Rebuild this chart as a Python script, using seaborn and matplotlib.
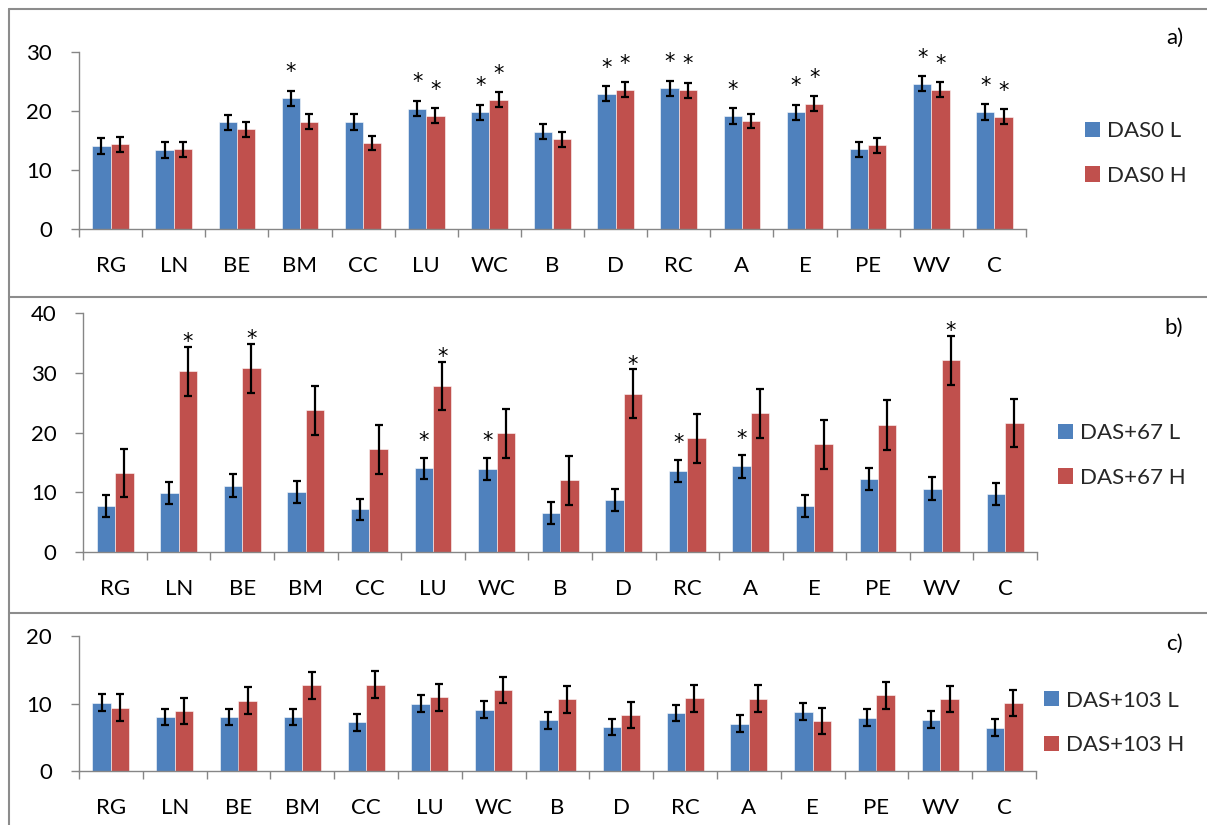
import matplotlib
matplotlib.use("Agg")
import matplotlib.pyplot as plt
from matplotlib.lines import Line2D
from matplotlib.patches import Patch
import pandas as pd
import seaborn as sns

# ---- data -------------------------------------------------------------
categories = ["RG", "LN", "BE", "BM", "CC", "LU", "WC", "B", "D", "RC",
              "A", "E", "PE", "WV", "C"]

# a) DAS0
das0_l = [14.1, 13.4, 18.1, 22.1, 18.1, 20.4, 19.8, 16.5, 22.9, 23.8,
          19.1, 19.8, 13.5, 24.6, 19.8]
das0_h = [14.4, 13.5, 16.9, 18.2, 14.6, 19.2, 21.9, 15.2, 23.6, 23.5,
          18.3, 21.2, 14.2, 23.6, 19.0]
das0_l_err = [1.35, 1.29, 1.29, 1.32, 1.30, 1.32, 1.27, 1.27, 1.29, 1.29,
              1.32, 1.27, 1.29, 1.27, 1.29]
das0_h_err = [1.27, 1.27, 1.24, 1.24, 1.21, 1.24, 1.27, 1.24, 1.27, 1.24,
              1.24, 1.24, 1.27, 1.27, 1.24]
das0_l_sig = [0, 0, 0, 1, 0, 1, 1, 0, 1, 1, 1, 1, 0, 1, 1]
das0_h_sig = [0, 0, 0, 0, 0, 1, 1, 0, 1, 1, 0, 1, 0, 1, 1]

# b) DAS+67
das67_l = [7.7, 9.9, 11.1, 10.0, 7.1, 14.0, 13.9, 6.5, 8.7, 13.6,
           14.3, 7.6, 12.2, 10.6, 9.7]
das67_h = [13.2, 30.3, 30.8, 23.7, 17.2, 27.8, 19.9, 12.0, 26.5, 19.0,
           23.2, 18.0, 21.3, 32.1, 21.6]
das67_l_err = [1.85, 1.82, 1.88, 1.85, 1.82, 1.80, 1.85, 1.90, 1.85, 1.85,
               1.88, 1.85, 1.88, 1.85, 1.88]
das67_h_err = [4.08, 4.10, 4.10, 4.10, 4.10, 4.10, 4.10, 4.10, 4.10, 4.10,
               4.10, 4.10, 4.20, 4.10, 4.10]
das67_l_sig = [0, 0, 0, 0, 0, 1, 1, 0, 0, 1, 1, 0, 0, 0, 0]
das67_h_sig = [0, 1, 1, 0, 0, 1, 0, 0, 1, 0, 0, 0, 0, 1, 0]

# c) DAS+103
das103_l = [10.1, 8.0, 8.0, 8.0, 7.2, 10.0, 9.1, 7.5, 6.5, 8.6,
            7.0, 8.8, 7.9, 7.6, 6.4]
das103_h = [9.4, 8.9, 10.4, 12.7, 12.8, 10.9, 12.0, 10.6, 8.3, 10.8,
            10.7, 7.4, 11.2, 10.7, 10.1]
das103_l_err = [1.24, 1.24, 1.24, 1.24, 1.24, 1.24, 1.24, 1.24, 1.24, 1.24,
                1.24, 1.24, 1.24, 1.24, 1.24]
das103_h_err = [1.98, 1.96, 1.98, 1.96, 1.96, 1.98, 1.94, 1.98, 1.96, 2.01,
                1.98, 1.94, 1.96, 1.96, 1.96]
das103_l_sig = [0] * 15
das103_h_sig = [0] * 15

# ---- style ------------------------------------------------------------
BLUE = "#4F81BD"
RED = "#C0504D"
GREY = "#868686"
FRAME = "#8C8C8C"
FS = 16

sns.set_theme(style="white")
plt.rcParams["font.family"] = ["Lato", "DejaVu Sans"]

W, H = 1207, 825
fig = plt.figure(figsize=(W / 100, H / 100), dpi=100)


def px_rect(left, right, bottom, top):
    return [left / W, 1 - bottom / H, (right - left) / W, (bottom - top) / H]


panels = [
    dict(rect=px_rect(79, 1026, 229.3, 51.7), ymax=30, yticks=[0, 10, 20, 30],
         low=das0_l, high=das0_h, low_err=das0_l_err, high_err=das0_h_err,
         low_sig=das0_l_sig, high_sig=das0_h_sig,
         names=["DAS0 L", "DAS0 H"], star_off=(9.0, 9.0),
         legend_xy=(1085, 153.5), tag="a)", tag_y=38),
    dict(rect=px_rect(83.3, 1037, 551.7, 313.3), ymax=40, yticks=[0, 10, 20, 30, 40],
         low=das67_l, high=das67_h, low_err=das67_l_err, high_err=das67_h_err,
         low_sig=das67_l_sig, high_sig=das67_h_sig,
         names=["DAS+67 L", "DAS+67 H"], star_off=(7.5, -1.0),
         legend_xy=(1058, 455.5), tag="b)", tag_y=328),
    dict(rect=px_rect(79, 1036, 771, 636), ymax=20, yticks=[0, 10, 20],
         low=das103_l, high=das103_h, low_err=das103_l_err, high_err=das103_h_err,
         low_sig=das103_l_sig, high_sig=das103_h_sig,
         names=["DAS+103 L", "DAS+103 H"], star_off=(6.0, 6.0),
         legend_xy=(1044, 722.75), tag="c)", tag_y=644),
]

for p in panels:
    ax = fig.add_axes(p["rect"])
    df = pd.DataFrame({
        "category": categories * 2,
        "value": p["low"] + p["high"],
        "series": [p["names"][0]] * len(categories) + [p["names"][1]] * len(categories),
    })
    sns.barplot(data=df, x="category", y="value", hue="series",
                order=categories, hue_order=p["names"],
                palette=[BLUE, RED], saturation=1, width=0.58, gap=0,
                errorbar=None, edgecolor=(1, 1, 1, 0.55), linewidth=0.7,
                legend=False, ax=ax)

    for cont, err, sig, off in zip(ax.containers,
                                   [p["low_err"], p["high_err"]],
                                   [p["low_sig"], p["high_sig"]],
                                   p["star_off"]):
        xs = [b.get_x() + b.get_width() / 2 for b in cont]
        ys = [b.get_height() for b in cont]
        ax.errorbar(xs, ys, yerr=err, fmt="none", ecolor="black",
                    elinewidth=1.6, capsize=3, capthick=1.6, zorder=4)
        for x, y, e, s in zip(xs, ys, err, sig):
            if s:
                ax.annotate("*", (x, y + e), xytext=(0, off),
                            textcoords="offset points", ha="center",
                            va="baseline", fontsize=15, color="black",
                            family=["DejaVu Sans"])

    ax.set_xlim(-0.5, len(categories) - 0.5)
    ax.set_ylim(0, p["ymax"])
    ax.set_yticks(p["yticks"])
    ax.set_xlabel("")
    ax.set_ylabel("")
    ax.set_xticks(range(len(categories)))
    ax.set_xticks([i - 0.5 for i in range(len(categories) + 1)], minor=True)
    ax.tick_params(axis="x", which="major", length=0, pad=19.5,
                   labelsize=FS, labelcolor="black")
    ax.tick_params(axis="x", which="minor", length=5.8, width=1.0,
                   color=GREY, direction="out", bottom=True)
    ax.tick_params(axis="y", length=5.8, width=1.0, color=GREY,
                   direction="out", left=True, pad=13.5, labelsize=FS,
                   labelcolor="black")
    for side in ["top", "right"]:
        ax.spines[side].set_visible(False)
    for side in ["left", "bottom"]:
        ax.spines[side].set_color(GREY)
        ax.spines[side].set_linewidth(1.0)
    ax.set_facecolor("white")

    handles = [Patch(facecolor=BLUE, edgecolor="none"),
               Patch(facecolor=RED, edgecolor="none")]
    lx, ly = p["legend_xy"]
    ax.legend(handles, p["names"], loc="center left",
              bbox_to_anchor=(lx / W, 1 - ly / H), bbox_transform=fig.transFigure,
              frameon=False, fontsize=FS, handlelength=0.68, handleheight=0.68,
              handletextpad=0.3, labelspacing=1.1, borderpad=0, borderaxespad=0)

    fig.text(1183 / W, 1 - p["tag_y"] / H, p["tag"], ha="right", va="center",
             fontsize=FS, color="black")

# panel frames
def frame_line(x0, y0, x1, y1):
    fig.add_artist(Line2D([x0 / W, x1 / W], [1 - y0 / H, 1 - y1 / H],
                          transform=fig.transFigure, color=FRAME, lw=1.5))

frame_line(9, 9, W, 9)
frame_line(9, 9, 9, H)
frame_line(9, 296.5, W, 296.5)
frame_line(9, 613, W, 613)

fig.savefig("out.png", dpi=100, facecolor="white")
